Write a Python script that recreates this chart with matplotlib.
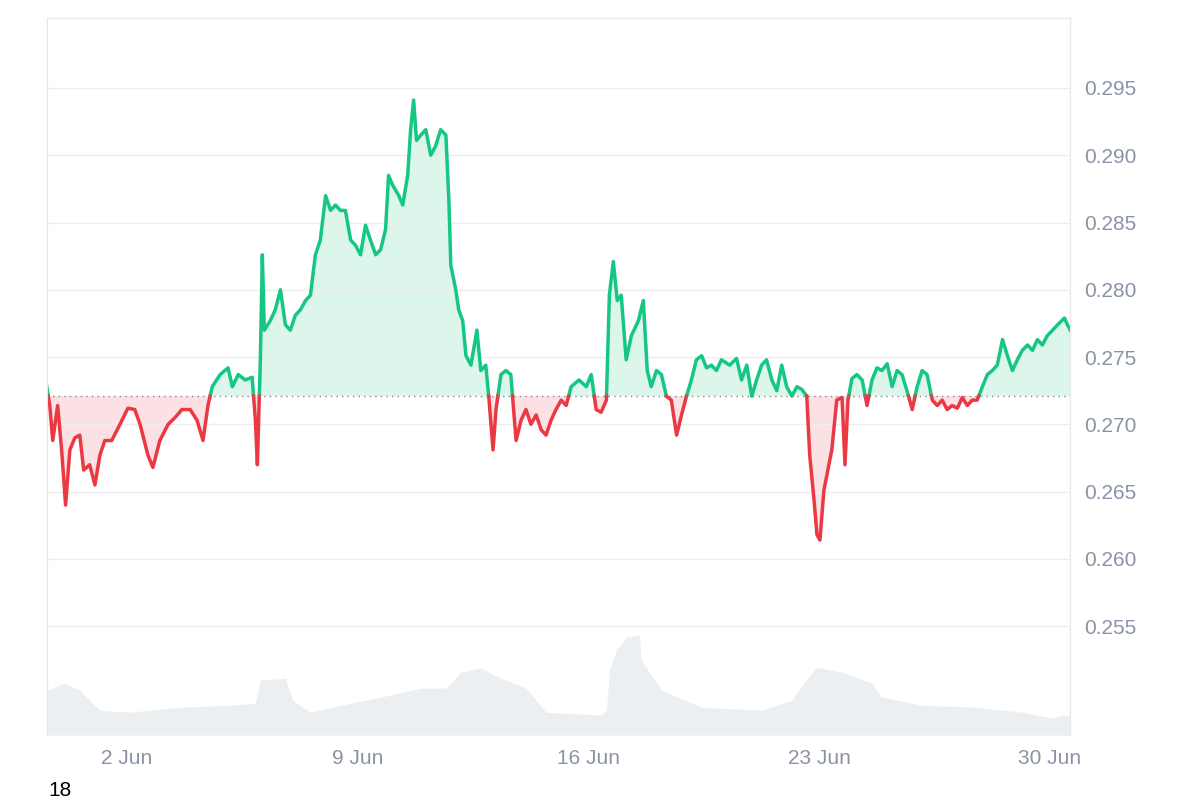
import numpy as np
import matplotlib.pyplot as plt

plt.rcParams["font.family"] = "Liberation Sans"

# days since 1 Jun 00:00
days = [-1.43, -1.34, -1.25, -1.10, -0.98, -0.86, -0.73, -0.58, -0.43, -0.31, -0.13, 0.03, 0.18, 0.33, 0.54, 0.79,
        1.03, 1.24, 1.40, 1.64, 1.79, 2.00, 2.25, 2.46, 2.67, 2.92, 3.13, 3.31, 3.46, 3.59, 3.83, 4.07, 4.20, 4.38,
        4.59, 4.80, 4.90, 4.96, 5.05, 5.11, 5.17, 5.35, 5.50, 5.66, 5.81, 5.96, 6.11, 6.26, 6.42, 6.57, 6.72, 6.87,
        7.03, 7.18, 7.33, 7.48, 7.63, 7.79, 7.94, 8.09, 8.24, 8.39, 8.55, 8.70, 8.85, 8.94, 9.06, 9.25, 9.37, 9.52,
        9.61, 9.70, 9.79, 9.92, 10.07, 10.22, 10.37, 10.52, 10.68, 10.77, 10.83, 10.98, 11.07, 11.19, 11.29, 11.44,
        11.62, 11.74, 11.89, 11.99, 12.11, 12.20, 12.35, 12.50, 12.65, 12.81, 12.96, 13.11, 13.26, 13.42, 13.57,
        13.72, 13.87, 14.02, 14.18, 14.33, 14.48, 14.72, 14.94, 15.09, 15.24, 15.39, 15.55, 15.64, 15.76, 15.88,
        16.00, 16.15, 16.31, 16.52, 16.67, 16.79, 16.91, 17.07, 17.22, 17.37, 17.52, 17.68, 17.83, 17.98, 18.13,
        18.28, 18.44, 18.59, 18.74, 18.89, 19.04, 19.29, 19.50, 19.65, 19.81, 19.96, 20.11, 20.26, 20.41, 20.57,
        20.72, 20.87, 21.02, 21.18, 21.33, 21.48, 21.63, 21.72, 21.85, 21.94, 22.03, 22.15, 22.27, 22.39, 22.54,
        22.70, 22.79, 22.88, 23.00, 23.15, 23.31, 23.46, 23.61, 23.76, 23.91, 24.07, 24.22, 24.37, 24.52, 24.67,
        24.83, 24.98, 25.13, 25.28, 25.44, 25.59, 25.74, 25.89, 26.04, 26.20, 26.35, 26.50, 26.65, 26.80, 26.96,
        27.11, 27.26, 27.41, 27.57, 27.72, 27.87, 28.02, 28.17, 28.33, 28.48, 28.63, 28.78, 28.93, 29.09, 29.24,
        29.45, 29.54, 29.63]
prices = [0.2728, 0.2714, 0.2688, 0.2714, 0.2681, 0.2640, 0.2681, 0.2690, 0.2692, 0.2666, 0.2670, 0.2655, 0.2677,
          0.2688, 0.2688, 0.2700, 0.2712, 0.2711, 0.2700, 0.2677, 0.2668, 0.2688, 0.2700, 0.2705, 0.2711, 0.2711,
          0.2703, 0.2688, 0.2714, 0.2728, 0.2737, 0.2742, 0.2728, 0.2737, 0.2733, 0.2735, 0.2703, 0.2670, 0.2748,
          0.2826, 0.2770, 0.2777, 0.2785, 0.2800, 0.2774, 0.2770, 0.2781, 0.2785, 0.2792, 0.2796, 0.2826, 0.2837,
          0.2870, 0.2859, 0.2863, 0.2859, 0.2859, 0.2837, 0.2833, 0.2826, 0.2848, 0.2837, 0.2826, 0.2830, 0.2845,
          0.2885, 0.2878, 0.2870, 0.2863, 0.2885, 0.2919, 0.2941, 0.2911, 0.2915, 0.2919, 0.2900, 0.2907, 0.2919,
          0.2915, 0.2867, 0.2818, 0.2800, 0.2785, 0.2777, 0.2751, 0.2744, 0.2770, 0.2740, 0.2744, 0.2718, 0.2681,
          0.2711, 0.2737, 0.2740, 0.2737, 0.2688, 0.2703, 0.2711, 0.2700, 0.2707, 0.2696, 0.2692, 0.2703, 0.2711,
          0.2718, 0.2714, 0.2728, 0.2733, 0.2728, 0.2737, 0.2711, 0.2709, 0.2718, 0.2796, 0.2821, 0.2792, 0.2796,
          0.2748, 0.2766, 0.2777, 0.2792, 0.2740, 0.2728, 0.2740, 0.2737, 0.2721, 0.2718, 0.2692, 0.2707, 0.2721,
          0.2733, 0.2748, 0.2751, 0.2742, 0.2744, 0.2740, 0.2748, 0.2744, 0.2749, 0.2733, 0.2744, 0.2721, 0.2733,
          0.2744, 0.2748, 0.2733, 0.2725, 0.2744, 0.2728, 0.2721, 0.2728, 0.2726, 0.2721, 0.2677, 0.2644, 0.2618,
          0.2614, 0.2651, 0.2666, 0.2681, 0.2718, 0.2720, 0.2670, 0.2718, 0.2734, 0.2737, 0.2733, 0.2714, 0.2733,
          0.2742, 0.2740, 0.2745, 0.2728, 0.2740, 0.2737, 0.2725, 0.2711, 0.2728, 0.2740, 0.2737, 0.2718, 0.2714,
          0.2718, 0.2711, 0.2714, 0.2712, 0.2720, 0.2714, 0.2718, 0.2718, 0.2728, 0.2737, 0.2740, 0.2744, 0.2763,
          0.2751, 0.2740, 0.2748, 0.2755, 0.2759, 0.2755, 0.2763, 0.2759, 0.2766, 0.2770, 0.2774, 0.2779, 0.2774,
          0.2770]
vol_days = [-1.43, -0.89, -0.43, 0.18, 1.09, 2.61, 4.13, 4.90, 5.05, 5.81, 6.02, 6.57, 7.79, 8.70, 9.92, 10.68,
            11.13, 11.74, 12.35, 13.11, 13.72, 15.39, 15.55, 15.64, 15.85, 16.15, 16.55, 16.61, 17.22, 18.44, 20.26,
            21.18, 21.48, 21.94, 22.70, 23.61, 23.91, 25.13, 26.73, 28.17, 29.09, 29.39, 29.63]
volumes = [45, 52, 45, 25, 23, 28, 30, 32, 55, 57, 35, 23, 32, 38, 47, 47, 63, 67, 57, 47, 23, 20, 25, 65, 85, 98,
           100, 75, 45, 28, 25, 35, 50, 68, 63, 52, 38, 30, 28, 23, 17, 20, 20]
tick_days = [1, 8, 15, 22, 29]
tick_labels = ["2 Jun", "9 Jun", "16 Jun", "23 Jun", "30 Jun"]
baseline = 0.2721

GREEN = "#16c784"
RED = "#ea3943"
GRAY = "#8a93a6"

# insert crossing points so colours switch exactly at the baseline
x, y = [days[0]], [prices[0]]
for i in range(1, len(days)):
    a, b = prices[i - 1] - baseline, prices[i] - baseline
    if a * b < 0:
        t = a / (a - b)
        x.append(days[i - 1] + t * (days[i] - days[i - 1]))
        y.append(baseline)
    x.append(days[i])
    y.append(prices[i])
x, y = np.array(x), np.array(y)

fig = plt.figure(figsize=(12, 8), dpi=100)
ax = fig.add_axes([0.039, 0.081, 0.853, 0.8965])

# volume underneath
axv = ax.twinx()
axv.fill_between(vol_days, volumes, color="#eceff2", lw=0)
axv.set_ylim(0, 717)
axv.set_yticks([])
axv.set_zorder(0)
ax.set_zorder(1)
ax.patch.set_visible(False)

ax.fill_between(x, y, baseline, where=y >= baseline, color=GREEN, alpha=0.15, lw=0, interpolate=True)
ax.fill_between(x, y, baseline, where=y <= baseline, color=RED, alpha=0.15, lw=0, interpolate=True)
ax.plot(x, np.where(y >= baseline, y, np.nan), color=GREEN, lw=2.5)
ax.plot(x, np.where(y <= baseline, y, np.nan), color=RED, lw=2.5)
ax.axhline(baseline, color="#888888", lw=1, ls=(0, (1, 3)))

ax.set_xlim(days[0], days[-1])
ax.set_ylim(0.2469, 0.3002)
ax.set_yticks([0.255, 0.26, 0.265, 0.27, 0.275, 0.28, 0.285, 0.29, 0.295])
ax.yaxis.tick_right()
ax.set_yticklabels([f"{v:.3f}" for v in ax.get_yticks()])
ax.set_xticks(tick_days)
ax.set_xticklabels(tick_labels)
ax.tick_params(length=0, labelsize=15, colors=GRAY, pad=10)
ax.grid(axis="y", color="#eeeeee", lw=1)
for ax_ in (ax, axv):
    for s in ax_.spines.values():
        s.set_color("#e8e8e8")
    ax_.spines["bottom"].set_visible(False)

fig.text(0.04, 0.0, "18", fontsize=15, color="black", va="bottom")
fig.savefig("out.png")
